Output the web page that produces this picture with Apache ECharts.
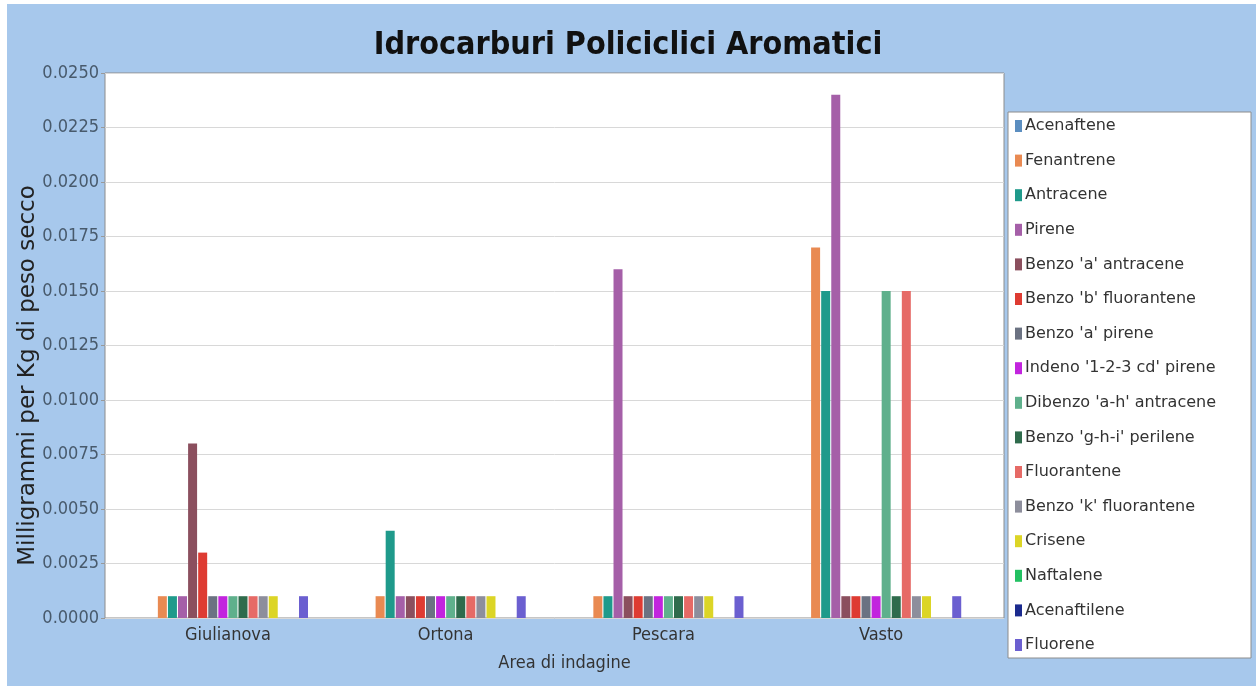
<!DOCTYPE html>
<html>
<head>
<meta charset="utf-8">
<script src="https://cdn.jsdelivr.net/npm/echarts@6/dist/echarts.min.js"></script>
<style>
  html, body { margin: 0; padding: 0; background: #ffffff; }
  #chart { width: 1256px; height: 686px; }
</style>
</head>
<body>
<div id="chart"></div>
<script>
// Sampling areas
const areas = ['Giulianova', 'Ortona', 'Pescara', 'Vasto'];

// Compound names (legend order)
const compounds = [
  'Acenaftene', 'Fenantrene', 'Antracene', 'Pirene',
  "Benzo 'a' antracene", "Benzo 'b' fluorantene", "Benzo 'a' pirene",
  "Indeno '1-2-3 cd' pirene", "Dibenzo 'a-h' antracene", "Benzo 'g-h-i' perilene",
  'Fluorantene', "Benzo 'k' fluorantene", 'Crisene', 'Naftalene',
  'Acenaftilene', 'Fluorene'
];

// mg/kg dry weight, one value per area (null = not reported)
const acenaftene       = [null, null, null, null];
const fenantrene       = [0.001, 0.001, 0.001, 0.017];
const antracene        = [0.001, 0.004, 0.001, 0.015];
const pirene           = [0.001, 0.001, 0.016, 0.024];
const benzoAAntracene  = [0.008, 0.001, 0.001, 0.001];
const benzoBFluorant   = [0.003, 0.001, 0.001, 0.001];
const benzoAPirene     = [0.001, 0.001, 0.001, 0.001];
const indenoPirene     = [0.001, 0.001, 0.001, 0.001];
const dibenzoAntracene = [0.001, 0.001, 0.001, 0.015];
const benzoGhiPerilene = [0.001, 0.001, 0.001, 0.001];
const fluorantene      = [0.001, 0.001, 0.001, 0.015];
const benzoKFluorant   = [0.001, 0.001, 0.001, 0.001];
const crisene          = [0.001, 0.001, 0.001, 0.001];
const naftalene        = [null, null, null, null];
const acenaftilene     = [null, null, null, null];
const fluorene         = [0.001, 0.001, 0.001, 0.001];

const seriesValues = [
  acenaftene, fenantrene, antracene, pirene, benzoAAntracene, benzoBFluorant,
  benzoAPirene, indenoPirene, dibenzoAntracene, benzoGhiPerilene, fluorantene,
  benzoKFluorant, crisene, naftalene, acenaftilene, fluorene
];

const palette = [
  '#5b8ec0', '#e98a52', '#1f9a8b', '#a55fa8', '#8b4f5e', '#de3b32',
  '#6b7282', '#c224de', '#5fb08c', '#2f6b4c', '#e66a66', '#8d8e9c',
  '#dcd526', '#22c162', '#1b2a8e', '#6b5fd0'
];

const yMin = 0, yMax = 0.025, yStep = 0.0025;
const condensed = '"DejaVu Sans Condensed", "DejaVu Sans", sans-serif';
const regular = '"DejaVu Sans", sans-serif';

const chart = echarts.init(document.getElementById('chart'), null, { renderer: 'canvas' });

const option = {
  animation: false,
  backgroundColor: '#ffffff',
  color: palette,
  graphic: [{
    type: 'rect',
    z: -10,
    shape: { x: 7, y: 4, width: 1256, height: 690 },
    style: { fill: '#a7c8ec' }
  }],
  title: {
    text: 'Idrocarburi Policiclici Aromatici',
    left: 'center',
    top: 25,
    textStyle: { fontFamily: condensed, fontWeight: 'bold', fontSize: 32, color: '#111' }
  },
  legend: {
    orient: 'vertical',
    left: 1008,
    top: 112,
    padding: [6, 35, 5, 7],
    backgroundColor: '#ffffff',
    borderColor: '#8c8c8c',
    borderWidth: 1,
    itemWidth: 7,
    itemHeight: 12,
    itemGap: 18.6,
    icon: 'rect',
    data: compounds,
    textStyle: { fontFamily: regular, fontSize: 16, color: '#333', lineHeight: 14, padding: [0, 0, 0, -2] }
  },
  grid: [
    { left: 105, top: 73, width: 899, height: 545, show: true, backgroundColor: '#ffffff', borderColor: '#8c8c8c', borderWidth: 1 },
    { left: 119, top: 73, width: 871, height: 545 }
  ],
  xAxis: [
    { gridIndex: 0, type: 'value', min: 0, max: 1, show: false },
    {
      gridIndex: 1, type: 'category', data: areas,
      axisLine: { show: false }, axisTick: { show: false },
      axisLabel: { margin: 8, fontFamily: condensed, fontSize: 18, color: '#333' },
      name: 'Area di indagine', nameLocation: 'middle', nameGap: 36,
      nameTextStyle: { fontFamily: condensed, fontSize: 18, color: '#333', padding: [0, 0, 0, 20] }
    }
  ],
  yAxis: [
    {
      gridIndex: 0, type: 'value', min: yMin, max: yMax, interval: yStep,
      axisLine: { show: false },
      axisTick: { show: true, length: 4, lineStyle: { color: '#999' } },
      splitLine: { lineStyle: { color: '#d8d8d8', width: 1 } },
      axisLabel: {
        margin: 6, fontFamily: condensed, fontSize: 18, color: '#485a6c',
        formatter: v => v.toFixed(4)
      },
      name: 'Milligrammi per Kg di peso secco', nameLocation: 'middle', nameGap: 65,
      nameMoveOverlap: false,
      nameTextStyle: { fontFamily: regular, fontSize: 23, color: '#222', padding: [0, 60, 0, 0] }
    },
    { gridIndex: 1, type: 'value', min: yMin, max: yMax, show: false }
  ],
  series: compounds.map((name, i) => ({
    name: name,
    type: 'bar',
    xAxisIndex: 1,
    yAxisIndex: 1,
    data: seriesValues[i],
    barWidth: 9,
    barGap: '12%',
    itemStyle: { color: palette[i] }
  }))
};

chart.setOption(option);
</script>
</body>
</html>
